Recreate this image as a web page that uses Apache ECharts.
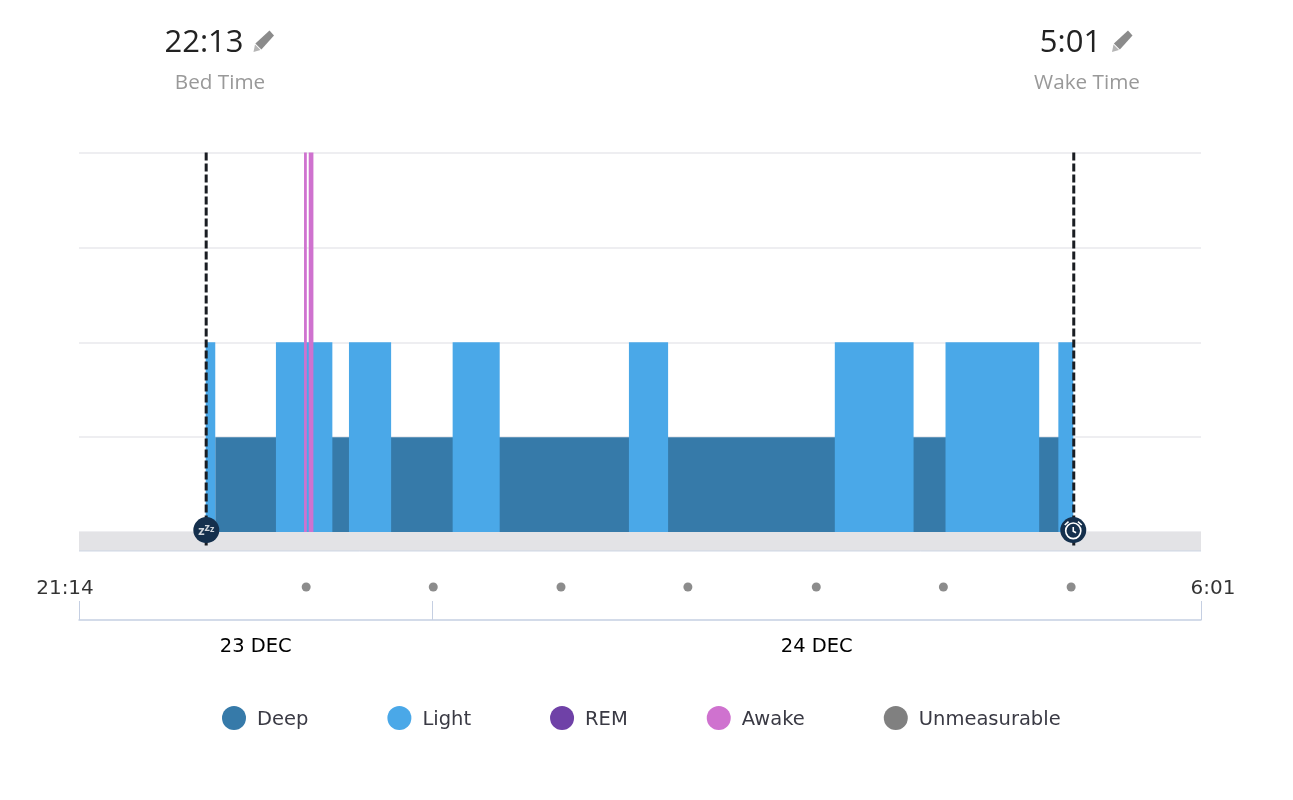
<!DOCTYPE html>
<html><head><meta charset="utf-8">
<style>html,body{margin:0;padding:0;background:#fff}#c{width:1293px;height:800px}</style>
<script src="https://cdn.jsdelivr.net/npm/echarts@6/dist/echarts.min.js"></script>
</head><body><div id="c"></div>
<script>
// minutes since 21:14
const RANGE_END = 527;
const BED = 59.5, WAKE = 467;
const deepSegments = [[64,93.5],[118,128],[146,176],[197,259],[276,356],[391,408],[450.5,461]];
const lightSegments = [[59.5,64],[92.5,119],[126.8,146.6],[175.5,197.6],[258.3,276.7],[355,392],[407,451],[460,467]];
const awakeSegments = [[105.7,107],[107.9,110.1]];
const remSegments = [];
const unmeasurableSegments = [];
const DEEP_LEVEL = 1, LIGHT_LEVEL = 2, REM_LEVEL = 3, AWAKE_LEVEL = 4;
const hourTicks = [106.7,166.4,226.4,286,346.3,406,466];
const dayBoundaries = [0,166,527];
const dayLabels = [[83,'23 DEC'],[346.5,'24 DEC']];
const startLabel = '21:14', endLabel = '6:01';
const bedTime = '22:13', wakeTime = '5:01';

const FONT = '"Open Sans", sans-serif';
const AXISFONT = '"DejaVu Sans", sans-serif';
const chart = echarts.init(document.getElementById('c'), null, {renderer:'canvas'});

function segSeries(name, segs, level, color, z, opacity) {
  return {
    name, type:'custom', xAxisIndex:0, yAxisIndex:0, z, silent:true, clip:false,
    itemStyle:{color},
    encode:{x:[0,1], y:2},
    data: segs.map(s => [s[0], s[1], level]),
    renderItem(params, api) {
      const a = api.coord([api.value(0), api.value(2)]);
      const b = api.coord([api.value(1), 0]);
      return {type:'rect', shape:{x:a[0], y:a[1], width:b[0]-a[0], height:b[1]-a[1]},
        style:{fill:color, opacity: opacity==null?1:opacity}};
    }
  };
}
const bandSeries = {
  type:'custom', xAxisIndex:0, yAxisIndex:0, z:1, silent:true, clip:false, legendHoverLink:false,
  data:[[0,RANGE_END,0,-0.2]], encode:{x:[0,1], y:2},
  renderItem(params, api) {
    const a = api.coord([api.value(0), api.value(2)]);
    const b = api.coord([api.value(1), api.value(3)]);
    return {type:'group', children:[
      {type:'rect', shape:{x:a[0], y:a[1], width:b[0]-a[0], height:b[1]-a[1]}, style:{fill:'#e3e3e6'}},
      {type:'line', shape:{x1:a[0], y1:b[1], x2:b[0], y2:b[1]}, style:{stroke:'#cdd5e4', lineWidth:1}}
    ]};
  }
};
const dashSeries = {
  type:'custom', xAxisIndex:0, yAxisIndex:0, z:8, silent:true, clip:false,
  data:[[BED,4,-0.17],[WAKE,4,-0.17]], encode:{x:0, y:1},
  renderItem(params, api) {
    const a = api.coord([api.value(0), api.value(1)]);
    const b = api.coord([api.value(0), api.value(2)]);
    return {type:'line', shape:{x1:a[0]+0.5, y1:a[1], x2:b[0]+0.5, y2:b[1]},
      style:{stroke:'#1a1d22', lineWidth:3, lineDash:[8,3]}};
  }
};
const clockGlyph = 'path://M12 5a8 8 0 1 1 -0.01 0 M12 9v4.5l3 1.5 M3 7l4-3.5 M21 7l-4-3.5';
const series = [
  bandSeries,
  segSeries('Deep', deepSegments, DEEP_LEVEL, '#367aa9', 3),
  segSeries('Light', lightSegments, LIGHT_LEVEL, '#4aa8e8', 4),
  segSeries('REM', remSegments, REM_LEVEL, '#6f41a7', 5),
  segSeries('Awake', awakeSegments, AWAKE_LEVEL, '#cf72cf', 6),
  segSeries('Unmeasurable', unmeasurableSegments, 0, '#808080', 5),
  dashSeries,
  {type:'scatter', xAxisIndex:0, yAxisIndex:0, z:9, silent:true, symbol:'circle', symbolSize:26,
   itemStyle:{color:'#15304d', opacity:1}, data:[[BED+0.3,0.02],[WAKE,0.02]]},
  {type:'scatter', xAxisIndex:0, yAxisIndex:0, z:10, silent:true, symbolSize:0,
   data:[[BED+0.3,0.02]],
   label:{show:true, position:'inside', formatter:'{a|z}{b|z}{c|z}',
     rich:{a:{color:'#fff',fontFamily:FONT,fontWeight:700,fontSize:13,padding:[3,0,0,0]},
           b:{color:'#fff',fontFamily:FONT,fontWeight:700,fontSize:11,padding:[0,0,5,0]},
           c:{color:'#fff',fontFamily:FONT,fontWeight:700,fontSize:9,padding:[0,0,1,0]}}}},
  {type:'scatter', xAxisIndex:0, yAxisIndex:0, z:10, silent:true, symbol:clockGlyph, symbolSize:17,
   itemStyle:{color:'rgba(0,0,0,0)', borderColor:'#fff', borderWidth:1.6, opacity:1}, data:[[WAKE,0.02]]},
  {type:'scatter', xAxisIndex:1, yAxisIndex:1, silent:true, symbol:'circle', symbolSize:9,
   itemStyle:{color:'#8c8c8c', opacity:1}, data:hourTicks.map(x=>[x,1])},
  {type:'scatter', xAxisIndex:1, yAxisIndex:1, silent:true, symbolSize:0,
   data:[
     {value:[0,1], label:{formatter:startLabel, offset:[-14,2]}},
     {value:[RANGE_END,1], label:{formatter:endLabel, offset:[12,2]}}
   ],
   label:{show:true, position:'inside', color:'#000', fontFamily:AXISFONT, fontSize:20}}
];

const pencil = dx => [
  {type:'polygon', x:dx, y:0, shape:{points:[[255.4,43.4],[269.5,30.5],[274,35.5],[261.4,49.6]]}, style:{fill:'#8b8b8b'}},
  {type:'polygon', x:dx, y:0, shape:{points:[[253.5,52],[255,44.5],[260.5,50]]}, style:{fill:'#b5b5b5'}}
];

chart.setOption({
  animation:false,
  backgroundColor:'#fff',
  grid:[
    {left:79, width:1122, top:152.5, height:379.5},
    {left:79, width:1122, top:587, height:33}
  ],
  xAxis:[
    {type:'value', gridIndex:0, min:0, max:RANGE_END, show:false},
    {type:'value', gridIndex:1, min:0, max:RANGE_END, position:'bottom',
     splitLine:{show:false},
     axisLine:{show:true, lineStyle:{color:'#c5cfe2', width:1.5}},
     axisTick:{show:true, inside:true, length:19, customValues:dayBoundaries, lineStyle:{color:'#c5cfe2', width:1}},
     axisLabel:{show:true, margin:17, color:'#000', fontFamily:AXISFONT, fontSize:19.5,
       customValues:dayLabels.map(d=>d[0]),
       formatter:v => (dayLabels.find(d=>d[0]===v)||[0,''])[1]}}
  ],
  yAxis:[
    {type:'value', gridIndex:0, min:0, max:4, interval:1,
     axisLine:{show:false}, axisTick:{show:false}, axisLabel:{show:false},
     splitLine:{show:true, lineStyle:{color:'#eeeef1', width:2}}},
    {type:'value', gridIndex:1, min:0, max:1, show:false}
  ],
  legend:{
    left:222, top:706, itemGap:79, itemWidth:24, itemHeight:24, icon:'circle', selectedMode:false,
    padding:0,
    formatter:name => '{t|' + name + '}',
    textStyle:{color:'#3a3a44', fontFamily:AXISFONT, fontSize:19.5, padding:[0,0,0,6],
      rich:{t:{color:'#3a3a44', fontFamily:AXISFONT, fontSize:19.5, padding:[4,0,0,0]}}},
    data:['Deep','Light','REM','Awake','Unmeasurable']
  },
  graphic:[
    {type:'text', x:204, y:43, style:{text:bedTime, font:'31px '+FONT, fill:'#222', align:'center', verticalAlign:'middle'}},
    {type:'text', x:220, y:83, style:{text:'Bed Time', font:'20.7px '+FONT, fill:'#999', align:'center', verticalAlign:'middle'}},
    {type:'text', x:1070.5, y:43, style:{text:wakeTime, font:'31px '+FONT, fill:'#222', align:'center', verticalAlign:'middle'}},
    {type:'text', x:1087, y:83, style:{text:'Wake Time', font:'20.7px '+FONT, fill:'#999', align:'center', verticalAlign:'middle'}},
    ...pencil(0), ...pencil(858.5)
  ],
  series
});
</script></body></html>
